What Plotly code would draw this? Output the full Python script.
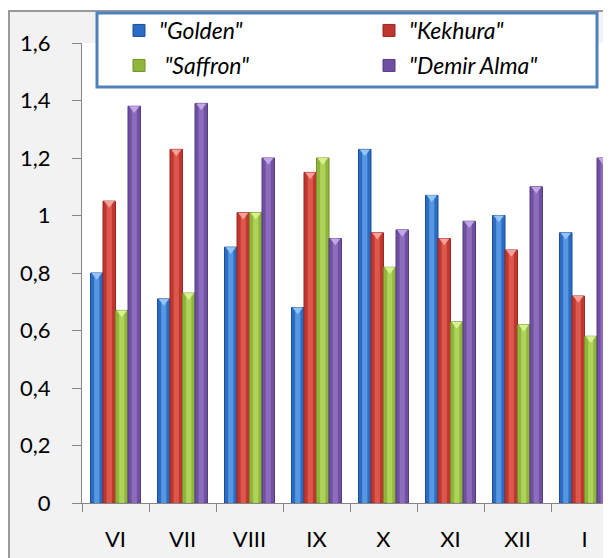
import plotly.graph_objects as go

# ---------------- data ----------------
categories = ["VI", "VII", "VIII", "IX", "X", "XI", "XII", "I"]
golden = [0.80, 0.71, 0.89, 0.68, 1.23, 1.07, 1.00, 0.94]
kekhura = [1.05, 1.23, 1.01, 1.15, 0.94, 0.92, 0.88, 0.72]
saffron = [0.67, 0.73, 1.01, 1.20, 0.82, 0.63, 0.62, 0.58]
demir_alma = [1.38, 1.39, 1.20, 0.92, 0.95, 0.98, 1.10, 1.20]
series_names = ['"Golden"', '"Kekhura"', ' "Saffron"', '"Demir Alma"']
series_values = [golden, kekhura, saffron, demir_alma]
series_legend = ["legend", "legend", "legend2", "legend2"]
y_tick_values = [0, 0.2, 0.4, 0.6, 0.8, 1.0, 1.2, 1.4, 1.6]

# ---------------- styles ----------------
# the page body has an 8px margin, so the figure is drawn 8px in from the
# window's top-left corner; reference pixel positions are shifted by that.
OFF = 8
W, H = 611 - OFF, 558 - OFF
PLOT_L, PLOT_R, PLOT_T, PLOT_B = 82 - OFF, 611 - OFF, 43 - OFF, 503 - OFF
CAT_PX = 67.0
PX_PER_UNIT = (PLOT_B - PLOT_T) / 1.6
FONT = "Lato"
TICK_SIZE = 22
LEGEND_SIZE = 23

styles = [
    dict(edge="#1d4f96", mid="#2b6dc4", light="#5597e0", top="#93c4f4"),
    dict(edge="#9a2723", mid="#c0372f", light="#dc584d", top="#f4a096"),
    dict(edge="#6f902a", mid="#8fb63a", light="#aed35a", top="#d8f290"),
    dict(edge="#553b80", mid="#7050a0", light="#8e6cbd", top="#c2a6e8"),
]

GROUP_W = 50.0 / CAT_PX
BAR_W = GROUP_W / 4
TRI_SIZE = 9
TRI_SHIFT = (TRI_SIZE / 2) / 2 / PX_PER_UNIT


def px_x(p):
    """reference-window pixel x -> paper coordinate"""
    return (p - OFF - PLOT_L) / (PLOT_R - PLOT_L)


def px_y(p):
    """reference-window pixel y -> paper coordinate"""
    return (PLOT_B - (p - OFF)) / (PLOT_B - PLOT_T)


fig = go.Figure()

for s, (name, vals, st, lg) in enumerate(
        zip(series_names, series_values, styles, series_legend)):
    left = -GROUP_W / 2 + s * BAR_W
    fig.add_trace(go.Bar(
        x=categories, y=vals, width=BAR_W, offset=left, name=name,
        legendgroup=name, legend=lg,
        marker=dict(color=st["mid"], line=dict(color=st["edge"], width=1)),
    ))
    fig.add_trace(go.Bar(
        x=categories, y=vals, width=BAR_W * 0.42, offset=left + BAR_W * 0.29,
        legendgroup=name, legend=lg, showlegend=False, hoverinfo="skip",
        marker=dict(color=st["light"], line=dict(width=0)),
    ))
    fig.add_trace(go.Scatter(
        x=[i + left + BAR_W / 2 for i in range(len(categories))],
        y=[v - TRI_SHIFT for v in vals],
        mode="markers", xaxis="x2", legendgroup=name, legend=lg,
        showlegend=False, hoverinfo="skip",
        marker=dict(symbol="triangle-down", size=TRI_SIZE, color=st["top"],
                    line=dict(width=0)),
    ))

x_range = [-0.5, -0.5 + (PLOT_R - PLOT_L) / CAT_PX]

shapes = [
    # outer chart area
    dict(type="rect", xref="paper", yref="paper", layer="below",
         x0=px_x(9), x1=px_x(640), y0=px_y(11), y1=px_y(600),
         fillcolor="#f2f2f2", line=dict(color="#9a9a9a", width=2)),
    # plot area
    dict(type="rect", xref="paper", yref="paper", layer="below",
         x0=0, x1=1, y0=0, y1=1, fillcolor="white", line=dict(width=0)),
    # legend box
    dict(type="rect", xref="paper", yref="paper", layer="below",
         x0=px_x(97), x1=px_x(597), y0=px_y(13), y1=px_y(87),
         fillcolor="white", line=dict(color="#4f81bd", width=3)),
]

legend_common = dict(
    orientation="h", xanchor="left", yanchor="top",
    entrywidth=205, entrywidthmode="pixels",
    bgcolor="rgba(0,0,0,0)", borderwidth=0,
    font=dict(family=FONT, size=LEGEND_SIZE, style="italic", color="#000000"),
    traceorder="normal",
)

fig.update_layout(
    width=W, height=H,
    margin=dict(l=PLOT_L, r=W - PLOT_R, t=PLOT_T, b=H - PLOT_B, pad=0,
                autoexpand=False),
    paper_bgcolor="white", plot_bgcolor="white",
    barmode="overlay",
    separators=", ",
    font=dict(family=FONT, size=TICK_SIZE, color="#000000"),
    shapes=shapes,
    showlegend=True,
    legend=dict(x=px_x(119), y=px_y(9), **legend_common),
    legend2=dict(x=px_x(119), y=px_y(44), **legend_common),
    xaxis=dict(
        type="category", range=x_range, showgrid=False, zeroline=False,
        showline=True, linecolor="#868686", linewidth=1.3,
        ticks="outside", tickson="boundaries", ticklen=8, tickcolor="#868686",
        tickwidth=1.3, tickfont=dict(family=FONT, size=TICK_SIZE, color="#000000"),
        ticklabelstandoff=16,
    ),
    xaxis2=dict(
        overlaying="x", range=x_range, visible=False, type="linear",
    ),
    yaxis=dict(
        range=[0, 1.6], tickvals=y_tick_values, showgrid=False, zeroline=False,
        showline=True, linecolor="#868686", linewidth=1.3,
        ticks="outside", ticklen=9, tickcolor="#868686", tickwidth=1.3,
        tickfont=dict(family=FONT, size=TICK_SIZE, color="#000000"),
        ticklabelstandoff=17,
    ),
)

fig.write_html("out.html")
